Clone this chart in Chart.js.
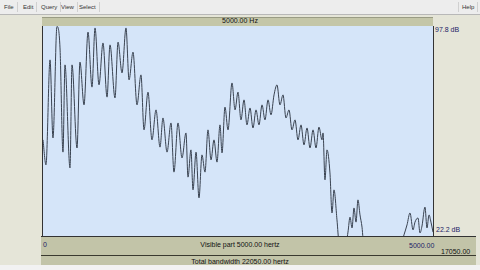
<!DOCTYPE html>
<html>
<head>
<meta charset="utf-8">
<script src="https://cdn.jsdelivr.net/npm/chart.js@4"></script>
<style>
  html, body { margin: 0; padding: 0; }
  body { width: 480px; height: 270px; overflow: hidden; background: #e5e5d8; position: relative; font-family: "Liberation Sans", Arial, sans-serif; }
  .abs { position: absolute; }
  #menubar { left: 0; top: 0; width: 480px; height: 14px; background: #ededed; border-bottom: 1px solid #b8b8b8; }
  .menu { position: absolute; top: 2px; height: 10px; font-size: 6px; line-height: 10px; color: #333; border-right: 1px solid #d0d0d0; padding: 0 3px; }
  #topband { left: 42px; top: 17px; width: 391px; height: 9px; background: #c4c6a8; border-top: 1px solid #9a9c84; }
  #plotbg { left: 42px; top: 26px; width: 392px; height: 210px; background: #d5e5f9; border-left: 1px solid #333; border-right: 1px solid #333; box-sizing: border-box; }
  #botband { left: 41px; top: 236px; width: 435px; height: 29px; background: #c2c4a8; border-top: 1px solid #333; }
  #botline { left: 41px; top: 255px; width: 435px; height: 1px; background: #3a3a30; }
  #bottomstrip { left: 0; top: 265px; width: 480px; height: 5px; background: #f2f2f2; }
  .lbl { position: absolute; font-size: 7px; line-height: 8px; color: #111; white-space: nowrap; }
  .db { color: #222266; }
  canvas { position: absolute; left: 0; top: 0; }
</style>
</head>
<body>
<div id="menubar" class="abs">
  <span class="menu" style="left:1px">File</span>
  <span class="menu" style="left:20px">Edit</span>
  <span class="menu" style="left:38px">Query</span>
  <span class="menu" style="left:58px">View</span>
  <span class="menu" style="left:76px">Select</span>
  <span class="menu" style="left:458px;border-left:1px solid #d0d0d0">Help</span>
</div>
<div id="topband" class="abs"></div>
<div id="plotbg" class="abs"></div>
<div id="botband" class="abs"></div>
<div id="botline" class="abs"></div>
<div id="bottomstrip" class="abs"></div>
<div class="lbl" style="left:0;width:480px;text-align:center;top:17px">5000.00 Hz</div>
<div class="lbl db" style="left:435px;top:26px">97.8 dB</div>
<div class="lbl db" style="left:436px;top:226px">22.2 dB</div>
<div class="lbl" style="left:43px;top:241px;color:#222266">0</div>
<div class="lbl" style="left:0;width:480px;text-align:center;top:241px">Visible part 5000.00 hertz</div>
<div class="lbl db" style="left:409px;top:242px">5000.00</div>
<div class="lbl" style="left:441px;top:248px">17050.00</div>
<div class="lbl" style="left:0;width:480px;text-align:center;top:258px">Total bandwidth 22050.00 hertz</div>
<canvas id="chart" width="480" height="270"></canvas>
<script>
// spectrum: frequency (Hz) and level (dB)
const freqs = [0, 38, 90, 128, 179, 218, 256, 282, 346, 372, 436, 474, 526, 577, 628, 667, 718, 769, 821, 859,
  923, 962, 1013, 1064, 1103, 1154, 1205, 1256, 1295, 1346, 1397, 1449, 1500, 1538, 1590, 1641, 1679, 1731, 1782, 1833,
  1859, 1897, 1923, 1962, 2000, 2038, 2077, 2115, 2154, 2192, 2231, 2269, 2295, 2333, 2372, 2423, 2462, 2500, 2538, 2577,
  2615, 2654, 2692, 2731, 2769, 2808, 2846, 2885, 2923, 2962, 3000, 3038, 3077, 3115, 3154, 3192, 3231, 3269, 3308, 3346,
  3385, 3423, 3462, 3500, 3538, 3577, 3590, 3615, 3641, 3679, 3705, 3731, 3769, 3795, 3872, 3910, 3936, 3962, 3987, 4013,
  4038, 4064, 4090, 4115, 4321, 4577, 4628, 4667, 4705, 4744, 4769, 4808, 4833, 4859, 4897, 4923, 4949, 4974, 5000];
const levels = [56.8, 47.8, 85.6, 57.5, 97.6, 89.9, 52.4, 83.8, 46.7, 83.8, 53.9, 84.8, 69.4, 95.6, 75.8, 97.1, 76.6, 91.7, 72.2, 91.0,
  71.9, 92.0, 80.9, 97.1, 78.4, 88.4, 69.4, 80.2, 60.4, 74.0, 56.8, 67.6, 54.2, 64.7, 52.4, 62.9, 45.2, 62.9, 50.3, 59.3,
  43.4, 53.2, 38.8, 52.4, 35.9, 51.4, 45.2, 60.4, 49.6, 56.8, 48.8, 62.2, 52.1, 68.6, 60.4, 77.3, 67.6, 74.0, 64.0, 71.2,
  62.2, 68.3, 61.1, 67.6, 62.2, 69.4, 64.0, 71.2, 65.8, 73.0, 76.6, 69.4, 73.0, 64.7, 67.6, 60.4, 64.0, 56.8, 62.2, 55.0,
  61.1, 53.9, 60.4, 53.9, 61.4, 56.8, 59.3, 42.4, 53.2, 44.9, 30.5, 38.8, 28.0, 20.0, 18.0, 23.6, 29.0, 25.1, 32.3, 27.2,
  35.2, 29.8, 25.4, 18.0, 15.0, 18.0, 22.6, 26.2, 30.5, 24.4, 27.2, 28.7, 23.3, 25.8, 32.6, 25.1, 29.8, 27.2, 23.6];

const fMin = 0, fMax = 5000;
const dbMin = 22.2, dbMax = 97.8;

const points = freqs.map((f, i) => ({ x: f, y: levels[i] }));

new Chart(document.getElementById('chart').getContext('2d'), {
  type: 'scatter',
  data: {
    datasets: [{
      data: points,
      showLine: true,
      borderColor: '#394250',
      borderWidth: 1,
      pointRadius: 0,
      cubicInterpolationMode: 'monotone',
      clip: 0
    }]
  },
  options: {
    responsive: false,
    animation: false,
    events: [],
    layout: { padding: { left: 43, right: 47, top: 26, bottom: 34 } },
    plugins: { legend: { display: false }, tooltip: { enabled: false } },
    scales: {
      x: { type: 'linear', min: fMin, max: fMax, display: false },
      y: { type: 'linear', min: dbMin, max: dbMax, display: false }
    }
  }
});
</script>
</body>
</html>
